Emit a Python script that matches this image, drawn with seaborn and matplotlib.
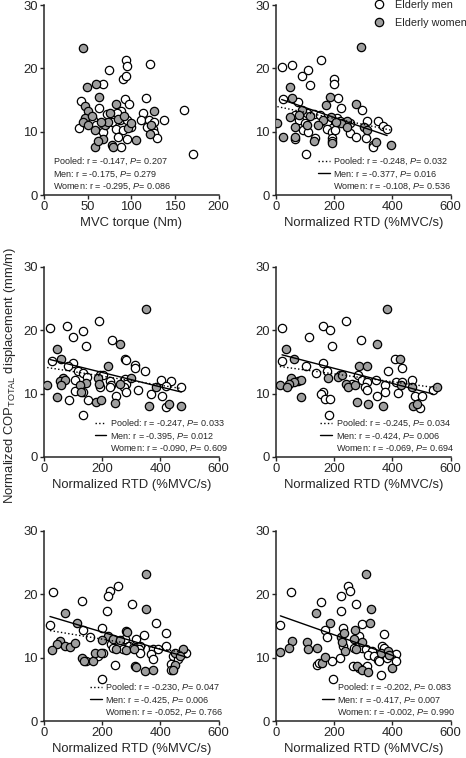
import numpy as np
import pandas as pd
import matplotlib
matplotlib.use('Agg')
import matplotlib.pyplot as plt
import seaborn as sns
from matplotlib.lines import Line2D

# values (x = predictor, y = normalized COP total displacement)

# panel 1: MVC torque (Nm)
p1_men_x = [94.5, 95, 121, 74, 90.6, 93.5, 67.8, 116.6, 92.9, 97.5, 42.3, 62.5, 161, 113.5, 88.7, 80, 87,
            95, 78, 70, 83, 90, 100, 111, 120, 126, 138, 55.6, 40, 125, 126, 130, 64, 67.8, 85, 95, 88.8,
            170.6, 72, 84, 60, 118]
p1_men_y = [21.3, 20.3, 20.7, 19.8, 18.3, 18.8, 17.5, 15.3, 15.1, 14.4, 14.8, 13.7, 13.4, 13.0, 13.3, 12.4,
            11.8, 11.9, 11.5, 11.2, 10.5, 10.2, 10.8, 11.8, 11.8, 11.6, 11.8, 11.8, 10.6, 10.4, 9.8, 9.0,
            10.5, 9.9, 9.2, 8.9, 7.6, 6.5, 12.8, 12.9, 11.0, 10.7]
p1_women_x = [45, 49, 59.4, 62.9, 47, 50.7, 83, 126, 75.4, 47, 45, 50, 123, 67.8, 58.3, 77.4, 79, 105, 70,
              96, 62, 73, 85, 122, 55, 65, 100, 92, 58]
p1_women_y = [23.2, 17.0, 17.6, 15.4, 14.1, 13.3, 14.4, 13.2, 13.0, 12.2, 11.6, 11.0, 11.1, 8.8, 7.6, 7.9,
              7.6, 8.7, 11.0, 10.6, 8.5, 11.6, 12.0, 9.6, 12.5, 11.5, 11.3, 12.5, 10.2]

# panel 2: normalized RTD (%MVC/s)
p2_men_x = [19.5, 56, 154, 90, 111, 117, 201, 201, 25, 77, 213, 223, 295, 106, 129, 152, 65.5, 80.5, 98,
            175, 209, 221, 193, 255, 92, 109, 175, 192, 203, 313, 349, 368, 382, 255, 275, 310, 65.5, 134,
            192, 192, 333, 333, 102]
p2_men_y = [20.2, 20.6, 21.3, 18.8, 19.7, 17.4, 18.3, 17.6, 15.1, 14.7, 15.3, 13.7, 13.4, 12.9, 12.8, 12.7,
            12.6, 11.9, 11.4, 11.4, 12.1, 11.7, 10.6, 11.3, 10.3, 10.0, 10.5, 9.9, 10.3, 11.7, 11.7, 10.9,
            10.5, 9.8, 9.2, 9.0, 8.8, 9.0, 9.0, 8.5, 7.9, 7.6, 6.4]
p2_women_x = [293, 48, 54, 186, 172, 276, 91, 48, 117, 163, 189.6, 244, 224, 4.6, 65.5, 106, 146, 244, 301,
              313, 23, 65.5, 132, 192, 345, 395, 80, 205]
p2_women_y = [23.3, 17.0, 15.3, 15.5, 14.2, 14.4, 13.4, 12.3, 12.4, 11.8, 12.3, 11.7, 11.3, 11.3, 10.8, 11.0,
              11.0, 10.7, 10.7, 10.3, 9.2, 9.2, 8.6, 8.2, 8.4, 7.9, 12.6, 11.5]

# panel 3
p3_men_x = [20.6, 80, 190, 100, 135, 144, 233, 26, 278, 283, 100, 83, 312, 312, 346, 118, 135, 192, 203,
            107, 149, 226, 232, 278, 283, 192, 226, 274, 403, 438, 421, 472, 107, 135, 283, 323, 249, 369,
            406, 87, 150, 418, 133]
p3_men_y = [20.3, 20.7, 21.5, 18.9, 19.9, 17.5, 18.5, 15.2, 15.5, 15.3, 14.8, 14.4, 14.5, 14.1, 13.6, 13.5,
            13.2, 13.0, 12.9, 12.2, 12.6, 12.0, 11.4, 12.3, 11.6, 11.1, 11.0, 11.0, 12.1, 12.0, 11.2, 11.0,
            10.4, 10.3, 10.2, 10.5, 9.7, 9.9, 9.7, 9.0, 9.0, 7.9, 6.6]
p3_women_x = [352, 260, 43.5, 57, 220, 64, 55, 72, 186, 190, 146, 124, 59, 11, 386, 126, 45, 180, 197, 243,
              361, 430, 472, 300, 260]
p3_women_y = [23.3, 17.8, 17.1, 15.5, 14.3, 12.5, 12.0, 12.2, 12.4, 11.6, 11.7, 11.3, 11.3, 11.3, 11.0, 10.3,
              9.4, 8.7, 9.0, 8.5, 8.1, 8.4, 8.1, 12.5, 11.5]

# panel 4
p4_men_x = [20.7, 160, 185, 240, 114, 193, 291, 22, 409, 102, 160, 432, 386, 137, 220, 174, 283, 294, 312,
            344, 260, 306, 314, 375, 413, 432, 467, 539, 375, 418, 160, 153, 168, 185, 346, 478, 501, 496, 183]
p4_men_y = [20.3, 20.7, 20.0, 21.5, 19.0, 17.5, 18.5, 15.2, 15.5, 14.4, 14.8, 14.0, 13.6, 13.3, 13.0, 13.5,
            13.0, 12.2, 11.8, 12.1, 11.5, 11.1, 10.6, 11.4, 11.9, 11.8, 12.1, 10.6, 10.3, 10.1, 10.3, 9.9,
            9.2, 9.2, 9.6, 9.7, 9.6, 7.8, 6.6]
p4_women_x = [380, 346, 35.6, 61, 426, 286, 312, 53, 76, 87, 61, 46, 179, 214, 226, 242, 248, 272, 13, 38,
              467, 428, 553, 85, 279, 317, 367, 472, 484]
p4_women_y = [23.3, 17.8, 17.1, 15.5, 15.5, 14.3, 14.4, 12.5, 12.0, 12.2, 11.8, 11.5, 12.4, 12.6, 13.0, 11.6,
              11.1, 11.3, 11.3, 11.1, 11.0, 11.4, 11.0, 9.4, 8.7, 8.4, 8.1, 8.1, 8.4]

# panel 5
p5_men_x = [32, 226, 220, 255, 129, 301, 218, 384, 20.6, 201, 135, 343, 421, 158, 278, 318, 232, 261, 292,
            306, 329, 238, 272, 326, 329, 375, 392, 418, 369, 375, 443, 460, 437, 489, 437, 145, 185, 202,
            243, 198]
p5_men_y = [20.3, 20.6, 19.8, 21.3, 18.9, 18.4, 17.4, 15.4, 15.2, 14.7, 14.4, 13.5, 13.9, 13.2, 12.9, 12.9,
            12.1, 11.9, 11.8, 11.6, 11.8, 11.5, 11.4, 11.3, 10.7, 11.3, 11.3, 11.8, 10.6, 9.8, 10.3, 9.8, 9.0,
            10.8, 8.0, 9.5, 10.2, 10.7, 8.8, 6.7]
p5_women_x = [350, 352, 72, 112, 281, 285, 220, 201, 238, 261, 55, 43.5, 72, 89, 106, 26, 247, 283, 309, 449,
              477, 466, 449, 443, 129, 139, 168, 174, 197, 312, 315, 347, 375]
p5_women_y = [23.2, 17.7, 17.0, 15.4, 14.2, 14.0, 13.4, 12.8, 12.9, 12.8, 12.6, 12.1, 11.9, 11.7, 12.3, 11.2,
              11.3, 11.2, 11.3, 10.8, 11.3, 10.2, 8.8, 8.0, 10.0, 9.5, 9.5, 10.7, 10.7, 8.7, 8.5, 7.9, 8.0]

# panel 6
p6_men_x = [53, 248, 254, 222, 153, 274, 222, 294, 15, 168, 231, 371, 176, 287, 231, 268, 294, 310, 331,
            366, 372, 411, 317, 337, 352, 383, 411, 141, 147, 191, 220, 264, 287, 314, 360, 354, 195]
p6_men_y = [20.3, 21.3, 20.6, 19.8, 18.8, 18.4, 17.4, 15.3, 15.2, 14.4, 14.7, 13.8, 13.2, 13.4, 11.8, 11.6,
            11.6, 11.3, 11.1, 11.8, 11.6, 10.6, 10.4, 10.2, 9.6, 9.9, 9.4, 8.8, 9.2, 9.5, 10.0, 8.7, 8.3, 8.7,
            7.3, 9.4, 6.7]
p6_women_x = [308, 325, 139, 322, 184, 271, 222, 233, 55, 46, 107, 109, 141, 15, 228, 268, 297, 237, 274,
              360, 386, 389, 398, 159, 170, 279, 294, 317]
p6_women_y = [23.2, 17.7, 17.0, 15.5, 15.4, 14.3, 13.2, 13.9, 12.7, 11.6, 12.4, 11.3, 11.6, 10.9, 12.5, 12.9,
              12.5, 11.1, 11.3, 10.8, 11.1, 10.4, 8.3, 9.2, 10.1, 8.7, 8.1, 7.8]

# correlation results printed in each panel
pooled_r = [-0.147, -0.248, -0.247, -0.245, -0.230, -0.202]
pooled_p = [0.207, 0.032, 0.033, 0.034, 0.047, 0.083]
men_r = [-0.175, -0.377, -0.395, -0.424, -0.425, -0.417]
men_p = [0.279, 0.016, 0.012, 0.006, 0.006, 0.007]
women_r = [-0.295, -0.108, -0.090, -0.069, -0.052, -0.002]
women_p = [0.086, 0.536, 0.609, 0.694, 0.766, 0.990]

x_labels = ['MVC torque (Nm)'] + ['Normalized RTD (%MVC/s)'] * 5
x_max = [200, 600, 600, 600, 600, 600]
x_step = [50, 200, 200, 200, 200, 200]

panels = [
    (p1_men_x, p1_men_y, p1_women_x, p1_women_y),
    (p2_men_x, p2_men_y, p2_women_x, p2_women_y),
    (p3_men_x, p3_men_y, p3_women_x, p3_women_y),
    (p4_men_x, p4_men_y, p4_women_x, p4_women_y),
    (p5_men_x, p5_men_y, p5_women_x, p5_women_y),
    (p6_men_x, p6_men_y, p6_women_x, p6_women_y),
]

sns.set_style('ticks')
plt.rcParams['font.family'] = ['Liberation Sans', 'DejaVu Sans']
plt.rcParams['mathtext.fontset'] = 'custom'
plt.rcParams['mathtext.rm'] = 'Liberation Sans'
plt.rcParams['mathtext.it'] = 'Liberation Sans:italic'
plt.rcParams['xtick.direction'] = 'out'
plt.rcParams['ytick.direction'] = 'out'

WOMEN_GRAY = '#9e9e9e'
LABEL_SIZE = 9.4

fig = plt.figure(figsize=(4.66, 7.58), dpi=100)

# axes boxes in figure fractions
lefts = [0.0944, 0.5923]
bottoms = [0.7427, 0.3971, 0.0488]
legend_x = [0.051, 0.241, 0.29, 0.253, 0.263, 0.264]

for i, (mx, my, wx, wy) in enumerate(panels):
    row, col = divmod(i, 2)
    ax = fig.add_axes([lefts[col], bottoms[row], 0.3745, 0.2507])

    men = pd.DataFrame({'x': mx, 'y': my})
    women = pd.DataFrame({'x': wx, 'y': wy})
    pooled = pd.concat([men, women], ignore_index=True)

    sns.scatterplot(data=men, x='x', y='y', ax=ax, color='white', edgecolor='black',
                    linewidth=0.9, s=36, zorder=3)
    sns.scatterplot(data=women, x='x', y='y', ax=ax, color=WOMEN_GRAY, edgecolor='black',
                    linewidth=0.9, s=36, zorder=3)

    # fit lines only where the correlation is significant
    handles = []
    if pooled_p[i] < 0.05:
        sns.regplot(data=pooled, x='x', y='y', ax=ax, scatter=False, ci=None, truncate=True,
                    line_kws={'color': 'black', 'lw': 1.0, 'ls': ':', 'zorder': 4})
        handles.append(Line2D([], [], color='black', lw=1.0, ls=':'))
    else:
        handles.append(Line2D([], [], color='none'))
    if men_p[i] < 0.05:
        sns.regplot(data=men, x='x', y='y', ax=ax, scatter=False, ci=None, truncate=True,
                    line_kws={'color': 'black', 'lw': 1.0, 'zorder': 4})
        handles.append(Line2D([], [], color='black', lw=1.0))
    else:
        handles.append(Line2D([], [], color='none'))
    handles.append(Line2D([], [], color='none'))

    labels = [
        f'Pooled: r = {pooled_r[i]:.3f}, $\\it{{P}}$= {pooled_p[i]:.3f}',
        f'Men: r = {men_r[i]:.3f}, $\\it{{P}}$= {men_p[i]:.3f}',
        f'Women: r = {women_r[i]:.3f}, $\\it{{P}}$= {women_p[i]:.3f}',
    ]
    any_line = pooled_p[i] < 0.05 or men_p[i] < 0.05
    ax.legend(handles, labels, loc='lower left', bbox_to_anchor=(legend_x[i], 0.015),
              frameon=False, fontsize=6.5, borderpad=0, borderaxespad=0,
              labelspacing=0.25, handlelength=1.3 if any_line else 0,
              handletextpad=0.4 if any_line else 0)

    ax.set_xlim(0, x_max[i])
    ax.set_ylim(0, 30)
    ax.set_xticks(np.arange(0, x_max[i] + 1, x_step[i]))
    ax.set_yticks([0, 10, 20, 30])
    ax.set_xlabel(x_labels[i], fontsize=LABEL_SIZE, labelpad=2.5)
    ax.set_ylabel('')
    ax.tick_params(labelsize=LABEL_SIZE, length=3, width=1, pad=1.5)
    for s in ['left', 'bottom']:
        ax.spines[s].set_linewidth(1.1)
    sns.despine(ax=ax)

fig.text(0.021, 0.505, r'Normalized COP$_{\rm TOTAL}$ displacement (mm/m)', rotation=90,
         ha='center', va='center', fontsize=LABEL_SIZE)

top_handles = [
    Line2D([], [], marker='o', ls='', mfc='white', mec='black', mew=0.9, ms=6),
    Line2D([], [], marker='o', ls='', mfc=WOMEN_GRAY, mec='black', mew=0.9, ms=6),
]
fig.legend(top_handles, ['Elderly men', 'Elderly women'], loc='upper left',
           bbox_to_anchor=(0.802, 1.0), frameon=False, fontsize=7.8, borderpad=0,
           borderaxespad=0, handlelength=1.0, handletextpad=0.95, labelspacing=0.7)

fig.savefig('out.png', dpi=100)
